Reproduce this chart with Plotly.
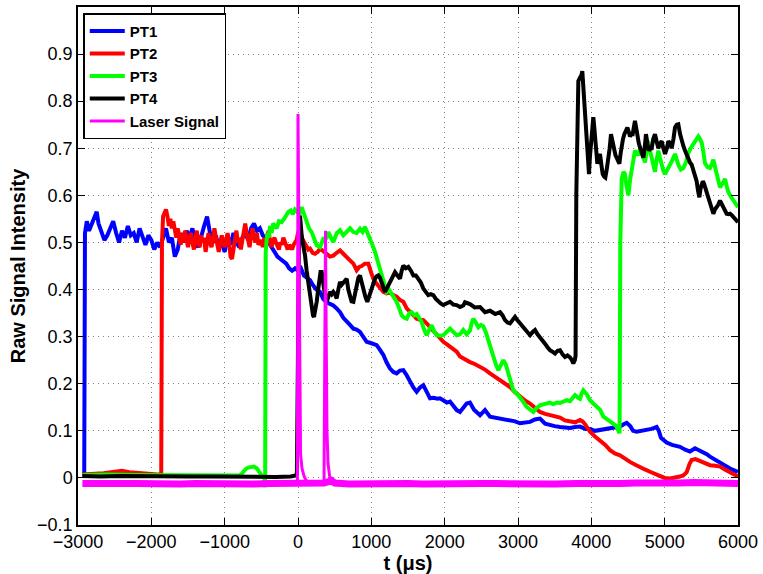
import plotly.graph_objects as go

# ---- PT1 ----
pt1_t = [-2940, -2915, -2905, -2880, -2850, -2810, -2770, -2745, -2720, -2680, -2640, -2600,
         -2560, -2520, -2480, -2440, -2400, -2360, -2320, -2280, -2240, -2200, -2160, -2120,
         -2080, -2040, -2000, -1960, -1920, -1880, -1840, -1800, -1760, -1720, -1680, -1640,
         -1600, -1560, -1520, -1480, -1440, -1400, -1360, -1320, -1280, -1240, -1200, -1160,
         -1120, -1080, -1040, -1000, -960, -920, -880, -840, -800, -760, -720, -680, -640,
         -600, -560, -520, -480, -440, -400, -360, -320, -280, -240, -200, -160, -120, -80,
         -40, 0, 40, 80, 120, 164, 200, 250, 300, 345, 390, 436, 482, 527, 573, 618, 664,
         709, 755, 800, 845, 890, 936, 982, 1027, 1073, 1118, 1164, 1209, 1255, 1300, 1345,
         1390, 1436, 1482, 1527, 1573, 1618, 1664, 1709, 1754, 1800, 1850, 1900, 1936, 1980,
         2030, 2073, 2120, 2164, 2209, 2254, 2300, 2345, 2400, 2482, 2550, 2618, 2700, 2755,
         2891, 2960, 3027, 3100, 3164, 3230, 3300, 3370, 3436, 3500, 3573, 3640, 3709, 3780,
         3845, 3920, 3982, 4050, 4118, 4190, 4255, 4320, 4391, 4440, 4482, 4530, 4570, 4618,
         4690, 4755, 4820, 4891, 4920, 4950, 5027, 5100, 5209, 5280, 5345, 5414, 5480, 5527,
         5580, 5618, 5690, 5755, 5820, 5891, 5950, 6000]
pt1_v = [0.005, 0.005, 0.52, 0.545, 0.525, 0.54, 0.555, 0.565, 0.54, 0.525, 0.505, 0.515,
         0.53, 0.545, 0.52, 0.50, 0.525, 0.51, 0.535, 0.515, 0.52, 0.50, 0.53, 0.515,
         0.495, 0.515, 0.505, 0.485, 0.50, 0.49, 0.51, 0.53, 0.50, 0.51, 0.47, 0.485,
         0.52, 0.50, 0.525, 0.51, 0.53, 0.50, 0.49, 0.515, 0.535, 0.555, 0.52, 0.50,
         0.515, 0.49, 0.50, 0.48, 0.51, 0.495, 0.52, 0.50, 0.49, 0.51, 0.52, 0.505, 0.53,
         0.54, 0.525, 0.53, 0.515, 0.51, 0.50, 0.49, 0.48, 0.47, 0.465, 0.46, 0.455, 0.445, 0.44,
         0.445, 0.44, 0.445, 0.43, 0.425, 0.42, 0.41, 0.40, 0.395, 0.38, 0.373, 0.37, 0.366, 0.36, 0.352, 0.34, 0.331,
         0.325, 0.317, 0.315, 0.31, 0.30, 0.289, 0.287, 0.285, 0.282, 0.272, 0.261, 0.245, 0.232, 0.225, 0.222,
         0.228, 0.229, 0.218, 0.204, 0.192, 0.183, 0.192, 0.197, 0.183, 0.169, 0.17, 0.168, 0.169, 0.165,
         0.16, 0.162, 0.152, 0.144, 0.14, 0.15, 0.158, 0.16, 0.145, 0.133, 0.144, 0.13, 0.128, 0.125,
         0.123, 0.12, 0.116, 0.118, 0.119, 0.124, 0.126, 0.115, 0.112, 0.11, 0.108, 0.106, 0.106, 0.108,
         0.109, 0.104, 0.104, 0.10, 0.102, 0.104, 0.105, 0.108, 0.109, 0.114, 0.117, 0.11, 0.10, 0.098,
         0.10, 0.102, 0.104, 0.108, 0.10, 0.085, 0.075, 0.07, 0.066, 0.06, 0.056, 0.063, 0.058, 0.056,
         0.05, 0.045, 0.038, 0.031, 0.025, 0.02, 0.016, 0.013]

# ---- PT2 ----
pt2_t = [-2940, -2800, -2650, -2500, -2400, -2300, -2200, -2100, -2000, -1880, -1865, -1855,
         -1840, -1820, -1800, -1780, -1760, -1740, -1720, -1700, -1680, -1660, -1640, -1620,
         -1600, -1580, -1560, -1540, -1520, -1500, -1480, -1460, -1440, -1420, -1400, -1380,
         -1360, -1340, -1320, -1300, -1280, -1260, -1240, -1220, -1200, -1180, -1160, -1140,
         -1120, -1100, -1080, -1060, -1040, -1020, -1000, -980, -960, -940, -920, -900, -880,
         -860, -840, -820, -800, -780, -760, -740, -720, -700, -680, -660, -640, -620, -600,
         -580, -560, -540, -520, -500, -480, -460, -440, -420, -400, -380, -360, -340, -320,
         -300, -280, -260, -240, -220, -200, -180, -160, -140, -120, -100, -80, -60, -40, -20,
         0, 25, 50, 80, 110, 140, 164, 200, 232, 270, 300, 345, 390, 436, 482, 527, 573, 618,
         664, 709, 755, 800, 835, 868, 910, 959, 1000, 1027, 1060, 1095, 1130, 1164, 1209,
         1255, 1300, 1345, 1390, 1436, 1482, 1527, 1573, 1618, 1664, 1709, 1754, 1800, 1845,
         1891, 1936, 1982, 2027, 2073, 2118, 2164, 2209, 2254, 2300, 2345, 2410, 2482, 2550,
         2618, 2690, 2755, 2820, 2891, 2960, 3027, 3100, 3164, 3230, 3300, 3370, 3436, 3500,
         3573, 3640, 3709, 3780, 3845, 3880, 3914, 3950, 3982, 4050, 4118, 4190, 4255, 4320,
         4391, 4460, 4527, 4600, 4664, 4730, 4800, 4870, 4936, 5000, 5073, 5140, 5209, 5260,
         5300, 5340, 5368, 5420, 5482, 5550, 5618, 5690, 5755, 5820, 5891, 5950, 6000]
pt2_v = [0.007, 0.008, 0.01, 0.013, 0.015, 0.012, 0.011, 0.01, 0.008, 0.007, 0.005, 0.50,
         0.555, 0.565, 0.57, 0.555, 0.535, 0.55, 0.53, 0.545, 0.52, 0.51, 0.53, 0.51,
         0.495, 0.52, 0.50, 0.525, 0.505, 0.49, 0.51, 0.52, 0.50, 0.485, 0.505, 0.525,
         0.50, 0.49, 0.515, 0.50, 0.51, 0.48, 0.50, 0.52, 0.50, 0.49, 0.505, 0.53,
         0.51, 0.495, 0.48, 0.50, 0.515, 0.50, 0.49, 0.505, 0.52, 0.50, 0.47, 0.465, 0.49,
         0.51, 0.525, 0.50, 0.51, 0.485, 0.50, 0.52, 0.54, 0.52, 0.50, 0.49, 0.515, 0.53, 0.51,
         0.50, 0.52, 0.495, 0.50, 0.505, 0.49, 0.51, 0.50, 0.51, 0.525, 0.50, 0.49, 0.505, 0.51,
         0.50, 0.49, 0.485, 0.50, 0.495, 0.51, 0.50, 0.49, 0.485, 0.495, 0.49, 0.485, 0.495, 0.50, 0.505,
         0.52, 0.53, 0.51, 0.50, 0.49, 0.485, 0.487, 0.478, 0.476, 0.48, 0.487, 0.48, 0.476, 0.47, 0.472, 0.478, 0.483, 0.476,
         0.47, 0.462, 0.455, 0.441, 0.448, 0.45, 0.455, 0.455, 0.435, 0.423, 0.415, 0.409, 0.40, 0.395, 0.392,
         0.394, 0.388, 0.385, 0.378, 0.374, 0.36, 0.352, 0.345, 0.338, 0.336, 0.335, 0.328, 0.32, 0.31,
         0.303, 0.296, 0.289, 0.284, 0.279, 0.274, 0.268, 0.258, 0.254, 0.248, 0.246, 0.242, 0.236, 0.23,
         0.222, 0.214, 0.207, 0.20, 0.193, 0.182, 0.172, 0.164, 0.158, 0.148, 0.14, 0.136, 0.133, 0.131,
         0.128, 0.122, 0.12, 0.118, 0.123, 0.12, 0.114, 0.104, 0.098, 0.088, 0.08, 0.07, 0.059, 0.052,
         0.048, 0.04, 0.034, 0.028, 0.024, 0.018, 0.013, 0.008, 0.003, 0.0, -0.001, 0.0, 0.003, 0.006,
         0.012, 0.03, 0.038, 0.04, 0.036, 0.03, 0.027, 0.026, 0.024, 0.018, 0.013, 0.008, 0.003]

# ---- PT3 ----
pt3_t = [-2940, -2600, -2200, -1800, -1400, -1000, -800, -760, -720, -680, -640, -600, -560,
         -520, -490, -460, -448, -440, -420, -400, -380, -360, -340, -314, -290, -260, -223,
         -190, -160, -132, -100, -70, -41, -10, 20, 50, 80, 118, 150, 186, 220, 255, 300, 345,
         390, 414, 450, 482, 530, 573, 618, 664, 710, 755, 800, 845, 880, 914, 950, 982, 1027,
         1050, 1085, 1118, 1140, 1164, 1209, 1240, 1277, 1310, 1345, 1380, 1414, 1450, 1482,
         1520, 1550, 1585, 1618, 1650, 1686, 1720, 1754, 1790, 1823, 1860, 1891, 1936, 1982,
         2027, 2073, 2118, 2164, 2209, 2254, 2300, 2345, 2370, 2391, 2425, 2459, 2495, 2527,
         2560, 2595, 2630, 2664, 2700, 2732, 2766, 2800, 2835, 2868, 2900, 2936, 2980, 3027,
         3070, 3118, 3164, 3209, 3250, 3300, 3345, 3391, 3436, 3482, 3530, 3573, 3620, 3664,
         3709, 3754, 3777, 3820, 3845, 3868, 3891, 3936, 3982, 4027, 4073, 4118, 4164, 4209,
         4255, 4300, 4345, 4370, 4385, 4395, 4414, 4440, 4459, 4480, 4505, 4530, 4550, 4575,
         4595, 4620, 4641, 4665, 4686, 4710, 4732, 4755, 4777, 4800, 4823, 4845, 4868, 4890,
         4914, 4936, 4959, 4982, 5005, 5040, 5073, 5105, 5141, 5165, 5186, 5220, 5255, 5290,
         5323, 5355, 5391, 5425, 5459, 5480, 5505, 5530, 5550, 5585, 5618, 5640, 5664, 5690,
         5709, 5735, 5755, 5790, 5823, 5845, 5868, 5900, 5936, 5965, 6000]
pt3_v = [0.006, 0.007, 0.006, 0.006, 0.005, 0.005, 0.005, 0.01, 0.018, 0.022, 0.024, 0.024, 0.02,
         0.01, 0.004, 0.002, -0.02, 0.48, 0.52, 0.51, 0.535, 0.52, 0.54, 0.535, 0.53, 0.545, 0.543,
         0.55, 0.56, 0.565, 0.568, 0.56, 0.57, 0.565, 0.56, 0.575, 0.56, 0.544, 0.53, 0.522, 0.505, 0.494, 0.49, 0.508,
         0.51, 0.522, 0.51, 0.501, 0.52, 0.526, 0.515, 0.524, 0.53, 0.522, 0.52, 0.529, 0.522, 0.533, 0.52, 0.51, 0.49,
         0.48, 0.46, 0.444, 0.43, 0.416, 0.395, 0.40, 0.39, 0.38, 0.374, 0.36, 0.345, 0.34, 0.338,
         0.35, 0.352, 0.345, 0.348, 0.34, 0.331, 0.315, 0.303, 0.315, 0.324, 0.31, 0.303, 0.302, 0.303,
         0.31, 0.317, 0.31, 0.303, 0.305, 0.314, 0.305, 0.313, 0.33, 0.338, 0.33, 0.32, 0.325, 0.322,
         0.31, 0.292, 0.27, 0.257, 0.24, 0.229, 0.24, 0.25, 0.24, 0.222, 0.20, 0.186, 0.18, 0.172,
         0.162, 0.151, 0.145, 0.14, 0.148, 0.154, 0.156, 0.158, 0.16, 0.157, 0.16, 0.159, 0.163, 0.165,
         0.163, 0.17, 0.176, 0.17, 0.168, 0.179, 0.186, 0.178, 0.165, 0.158, 0.152, 0.145, 0.13, 0.124,
         0.12, 0.115, 0.109, 0.10, 0.095, 0.50, 0.635, 0.65, 0.645, 0.62, 0.60, 0.635, 0.655, 0.68,
         0.695, 0.69, 0.685, 0.70, 0.69, 0.675, 0.67, 0.695, 0.715, 0.695, 0.68, 0.665, 0.65, 0.675,
         0.695, 0.68, 0.665, 0.652, 0.645, 0.655, 0.662, 0.675, 0.688, 0.675, 0.665, 0.655, 0.658, 0.67,
         0.69, 0.70, 0.709, 0.718, 0.725, 0.72, 0.712, 0.69, 0.668, 0.66, 0.658, 0.665, 0.676, 0.658,
         0.643, 0.628, 0.617, 0.625, 0.635, 0.62, 0.607, 0.598, 0.59, 0.582, 0.575]

# ---- PT4 ----
pt4_t = [-2940, -2700, -2400, -2100, -1800, -1500, -1200, -900, -600, -300, -100, -30, -15,
         0, 15, 27, 40, 50, 75, 96, 118, 141, 165, 186, 205, 218, 235, 255, 275, 291, 307, 323,
         340, 359, 375, 391, 414, 436, 460, 482, 505, 527, 550, 573, 595, 618, 640, 664, 686,
         709, 730, 755, 778, 800, 823, 845, 868, 891, 918, 945, 975, 1005, 1027, 1050, 1073,
         1095, 1118, 1141, 1164, 1186, 1220, 1255, 1290, 1323, 1355, 1391, 1414, 1436, 1470,
         1505, 1540, 1573, 1607, 1641, 1675, 1709, 1743, 1777, 1810, 1845, 1880, 1914, 1950,
         1982, 2027, 2073, 2118, 2164, 2209, 2254, 2277, 2345, 2410, 2482, 2550, 2618, 2690,
         2755, 2790, 2823, 2857, 2891, 2925, 2959, 2990, 3027, 3060, 3095, 3130, 3164, 3200,
         3232, 3266, 3300, 3335, 3368, 3400, 3436, 3470, 3505, 3540, 3573, 3610, 3641, 3675,
         3709, 3735, 3754, 3775, 3785, 3795, 3810, 3823, 3845, 3865, 3877, 3890, 3900, 3915,
         3927, 3945, 3968, 3980, 3995, 4010, 4027, 4040, 4055, 4070, 4082, 4100, 4118, 4137,
         4155, 4175, 4191, 4210, 4232, 4250, 4268, 4290, 4309, 4330, 4345, 4365, 4382, 4400,
         4414, 4432, 4450, 4470, 4491, 4510, 4527, 4545, 4564, 4580, 4595, 4615, 4632, 4648,
         4664, 4686, 4709, 4727, 4745, 4765, 4786, 4805, 4823, 4845, 4868, 4890, 4914, 4936,
         4959, 4982, 5005, 5030, 5050, 5075, 5095, 5120, 5141, 5165, 5186, 5210, 5232, 5255,
         5277, 5300, 5323, 5345, 5368, 5385, 5400, 5420, 5436, 5455, 5473, 5490, 5505, 5520,
         5536, 5555, 5573, 5595, 5618, 5640, 5664, 5685, 5709, 5730, 5755, 5780, 5800, 5822,
         5845, 5868, 5891, 5915, 5936, 5965, 6000]
pt4_v = [0.004, 0.003, 0.004, 0.003, 0.004, 0.003, 0.003, 0.002, 0.003, 0.002, 0.003, 0.005, 0.01,
         0.45, 0.54, 0.557, 0.53, 0.515, 0.49, 0.472, 0.44, 0.416, 0.385, 0.36, 0.345, 0.342, 0.355, 0.374, 0.40, 0.423, 0.437, 0.437,
         0.415, 0.395, 0.38, 0.374, 0.385, 0.395, 0.39, 0.395, 0.39, 0.381, 0.40, 0.416, 0.41, 0.415, 0.42, 0.423, 0.40,
         0.381, 0.375, 0.374, 0.395, 0.41, 0.425, 0.43, 0.415, 0.40, 0.385, 0.374, 0.39, 0.402, 0.415, 0.423, 0.428,
         0.43, 0.425, 0.416, 0.405, 0.395, 0.405, 0.416, 0.43, 0.437, 0.43, 0.423, 0.44, 0.451, 0.445,
         0.448, 0.44, 0.43, 0.43, 0.423, 0.415, 0.402, 0.395, 0.388, 0.39, 0.388, 0.38, 0.374, 0.37,
         0.367, 0.37, 0.374, 0.368, 0.367, 0.363, 0.366, 0.373, 0.369, 0.362, 0.363, 0.352, 0.355, 0.348,
         0.352, 0.345, 0.335, 0.33, 0.328, 0.335, 0.342, 0.335, 0.328, 0.32, 0.314, 0.31, 0.303, 0.31,
         0.314, 0.305, 0.299, 0.292, 0.285, 0.278, 0.271, 0.268, 0.264, 0.27, 0.271, 0.262, 0.257, 0.26,
         0.256, 0.25, 0.243, 0.25, 0.26, 0.60, 0.80, 0.843, 0.85, 0.855, 0.864, 0.83, 0.80, 0.76,
         0.73, 0.695, 0.645, 0.68, 0.709, 0.74, 0.766, 0.745, 0.723, 0.69, 0.667, 0.68, 0.688, 0.665,
         0.645, 0.64, 0.638, 0.655, 0.674, 0.70, 0.73, 0.71, 0.695, 0.685, 0.68, 0.675, 0.667, 0.69,
         0.709, 0.72, 0.73, 0.74, 0.744, 0.735, 0.725, 0.73, 0.73, 0.745, 0.758, 0.74, 0.72, 0.71,
         0.702, 0.69, 0.68, 0.70, 0.73, 0.71, 0.695, 0.70, 0.70, 0.72, 0.73, 0.715, 0.70, 0.71,
         0.715, 0.70, 0.688, 0.70, 0.715, 0.71, 0.70, 0.72, 0.744, 0.75, 0.751, 0.73, 0.715, 0.705,
         0.695, 0.685, 0.674, 0.67, 0.665, 0.655, 0.651, 0.64, 0.63, 0.61, 0.596, 0.615, 0.624, 0.63,
         0.625, 0.615, 0.61, 0.595, 0.582, 0.57, 0.561, 0.57, 0.575, 0.58, 0.589, 0.58, 0.575, 0.568,
         0.561, 0.56, 0.561, 0.558, 0.554, 0.55, 0.543]

# ---- Laser signal: noisy baseline and the two pulses ----
laser_base_t = [-2940, -2700, -2500, -2200, -2000, -1800, -1600, -1400, -1200, -1000, -800,
                -600, -400, -200, -20, 150, 200, 300, 355, 460, 500, 700, 900, 1100, 1300,
                1500, 1700, 1900, 2100, 2300, 2500, 2700, 2900, 3100, 3300, 3500, 3800, 4000,
                4200, 4400, 4600, 4800, 5000, 5200, 5400, 5600, 5800, 6000]
laser_base_v = [-0.012, -0.014, -0.012, -0.012, -0.013, -0.011, -0.013, -0.012, -0.013, -0.012, -0.012,
                -0.013, -0.012, -0.012, -0.012, -0.01, -0.012, -0.013, -0.011, -0.006, -0.011, -0.013,
                -0.012, -0.013, -0.012, -0.012, -0.013, -0.012, -0.012, -0.013, -0.012, -0.012, -0.013,
                -0.012, -0.012, -0.013, -0.012, -0.013, -0.012, -0.012, -0.011, -0.012, -0.011, -0.011,
                -0.010, -0.011, -0.011, -0.012]
laser_pulse_t = [-40, -8, 0, 12, 22, 35, 55, 80, 110, 150, 200, 300, 355, 365, 375, 385, 395,
                 410, 430, 460, 500]
laser_pulse_v = [-0.012, -0.005, 0.773, 0.5, 0.15, 0.05, 0.02, 0.005, -0.005, -0.01, -0.012, -0.013,
                 -0.01, 0.35, 0.525, 0.3, 0.1, 0.03, 0.005, -0.005, -0.011]

# ---- axis ticks ----
x_ticks = [-3000, -2000, -1000, 0, 1000, 2000, 3000, 4000, 5000, 6000]
x_labels = ["\u22123000", "\u22122000", "\u22121000", "0", "1000", "2000", "3000", "4000", "5000", "6000"]
y_ticks = [-0.1, 0, 0.1, 0.2, 0.3, 0.4, 0.5, 0.6, 0.7, 0.8, 0.9]
y_labels = ["\u22120.1", "0", "0.1", "0.2", "0.3", "0.4", "0.5", "0.6", "0.7", "0.8", "0.9"]

FONT = "Liberation Sans, Arial, Helvetica, sans-serif"
TRACE_W = 4

fig = go.Figure()
fig.add_trace(go.Scatter(x=pt1_t, y=pt1_v, mode="lines", name="PT1",
                         line=dict(color="#0000ff", width=TRACE_W)))
fig.add_trace(go.Scatter(x=pt2_t, y=pt2_v, mode="lines", name="PT2",
                         line=dict(color="#ff0000", width=TRACE_W)))
fig.add_trace(go.Scatter(x=pt3_t, y=pt3_v, mode="lines", name="PT3",
                         line=dict(color="#00ff00", width=TRACE_W)))
fig.add_trace(go.Scatter(x=pt4_t, y=pt4_v, mode="lines", name="PT4",
                         line=dict(color="#000000", width=TRACE_W)))
fig.add_trace(go.Scatter(x=laser_base_t, y=laser_base_v, mode="lines", name="Laser Signal",
                         legendgroup="laser", showlegend=False,
                         line=dict(color="#ff00ff", width=7)))
fig.add_trace(go.Scatter(x=laser_pulse_t, y=laser_pulse_v, mode="lines", name="Laser Signal",
                         legendgroup="laser",
                         line=dict(color="#ff00ff", width=3)))

axis_common = dict(
    showline=True, linecolor="black", linewidth=1.5, mirror="ticks",
    ticks="inside", ticklen=7, tickwidth=1.2, tickcolor="black",
    showgrid=True, gridcolor="#7f7f7f", gridwidth=1, griddash="1px,4px",
    zeroline=False,
    tickfont=dict(family=FONT, size=18, color="black"),
)

fig.update_xaxes(range=[-3000, 6000], tickvals=x_ticks, ticktext=x_labels,
                 title=dict(text="t (\u03bcs)", font=dict(family=FONT, size=20, color="black", weight="bold"),
                            standoff=2),
                 **axis_common)
fig.update_yaxes(range=[-0.1, 1.0], tickvals=y_ticks, ticktext=y_labels,
                 title=dict(text="Raw Signal Intensity", font=dict(family=FONT, size=20, color="black", weight="bold"),
                            standoff=6),
                 **axis_common)

fig.update_layout(
    width=763, height=574,
    margin=dict(l=78, r=25, t=7, b=49, autoexpand=False),
    paper_bgcolor="white", plot_bgcolor="white",
    font=dict(family=FONT, color="black"),
    legend=dict(x=0.008, y=0.988, xanchor="left", yanchor="top",
                bgcolor="white", bordercolor="black", borderwidth=1.5,
                font=dict(family=FONT, size=15, color="black", weight="bold"),
                tracegroupgap=0, itemwidth=35),
    showlegend=True,
)

fig.write_html("out.html")
